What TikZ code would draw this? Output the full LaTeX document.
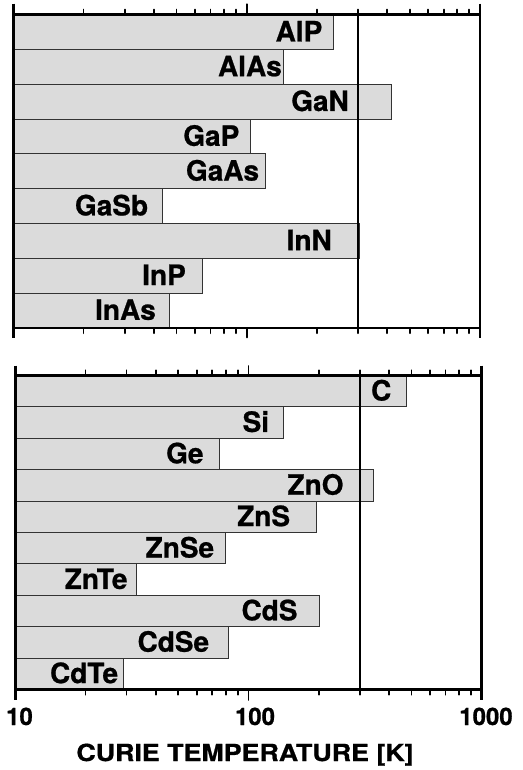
\documentclass[tikz,border=0pt]{standalone}
\usepackage{fontspec}
\setmainfont{TeX Gyre Heros}[BoldFeatures={FakeBold=0.8}]
\begin{document}
\begin{tikzpicture}[x=1pt,y=-1pt,
  bar/.style={draw=black!80,line width=0.9pt,fill=black!14},
  axisline/.style={line width=2.6pt,line cap=butt},
  tline/.style={line width=2pt},
  tickmark/.style={line width=1.8pt,line cap=round},
  lab/.style={font=\fontsize{28}{28}\selectfont\bfseries,inner sep=0pt,anchor=base east},
  num/.style={font=\fontsize{24}{24}\selectfont\bfseries,inner sep=0pt,anchor=base},
  ttl/.style={font=\fontsize{23.5}{24}\selectfont\bfseries,inner sep=0pt,anchor=base,xscale=1.14},
]
\useasboundingbox (0,0) rectangle (522,770);
\fill[white] (0,0) rectangle (522,770);

% ---------- top panel ----------
\def\xa{13.3}\def\xb{480}\def\ytop{14.7}\def\ybot{328}
\foreach \name/\xe/\xl [count=\i] in {AlP/333.3/322.5, AlAs/283.3/282, GaN/391.7/349, GaP/250/239.5, GaAs/265/259.3, GaSb/162.7/148.3, InN/359.3/332, InP/202.3/186, InAs/169/156}{
  \pgfmathsetmacro\ya{\ytop+34.8*(\i-1)}
  \pgfmathsetmacro\yb{\ytop+34.8*\i}
  \draw[bar] (\xa,\ya) rectangle (\xe,\yb);
  \node[lab] (t\i) at (\xl,{(\ya+\yb)/2+9.3}) {\name};
}
\coordinate (tT1) at ({\xa+233.35*1.47712},\ytop);
\coordinate (tT2) at ({\xa+233.35*1.47712},\ybot);
\draw[tline] (tT1) -- (tT2);
\draw[axisline] (\xa,\ytop) rectangle (\xb,\ybot);
\draw[axisline] (\xa,{\ytop-11}) -- (\xa,{\ybot+10});
\draw[axisline] (\xb,{\ytop-11}) -- (\xb,{\ybot+10});
\foreach \d in {0,1}{
  \foreach \l in {0.30103,0.47712,0.60206,0.69897,0.77815,0.84510,0.90309,0.95424}{
    \draw[tickmark] ({\xa+233.35*(\d+\l)},\ytop) -- ++(0,-5.2);
    \draw[tickmark] ({\xa+233.35*(\d+\l)},\ybot) -- ++(0,5.2);
  }
}
\draw[tickmark] ({\xa+233.35},\ytop) -- ++(0,-10.5);
\draw[tickmark] ({\xa+233.35},\ybot) -- ++(0,9.5);

% ---------- bottom panel ----------
\def\xc{15.3}\def\xd{481.7}\def\ytopb{375.5}\def\ybotb{689.5}
\foreach \name/\xe/\xl [count=\i] in {C/406/391.5, Si/283.3/269.3, Ge/219.3/203.7, ZnO/373.3/343.7, ZnS/316.7/290.3, ZnSe/225/214.3, ZnTe/136/127.7, CdS/319.3/297.7, CdSe/228.3/209.3, CdTe/123.3/118.3}{
  \pgfmathsetmacro\ya{\ytopb+31.4*(\i-1)}
  \pgfmathsetmacro\yb{\ytopb+31.4*\i}
  \draw[bar] (\xc,\ya) rectangle (\xe,\yb);
  \node[lab] (b\i) at (\xl,{(\ya+\yb)/2+9.3}) {\name};
}
\coordinate (bT1) at ({\xc+233.2*1.47712},\ytopb);
\coordinate (bT2) at ({\xc+233.2*1.47712},\ybotb);
\draw[tline] (bT1) -- (bT2);
\draw[axisline] (\xc,\ytopb) rectangle (\xd,\ybotb);
\draw[axisline] (\xc,{\ytopb-10}) -- (\xc,{\ybotb+10.5});
\draw[axisline] (\xd,{\ytopb-10}) -- (\xd,{\ybotb+10});
\foreach \d in {0,1}{
  \foreach \l in {0.30103,0.47712,0.60206,0.69897,0.77815,0.84510,0.90309,0.95424}{
    \draw[tickmark] ({\xc+233.2*(\d+\l)},\ytopb) -- ++(0,-5.2);
    \draw[tickmark] ({\xc+233.2*(\d+\l)},\ybotb) -- ++(0,5.2);
  }
}
\draw[tickmark] ({\xc+233.2},\ytopb) -- ++(0,-9.5);
\draw[tickmark] ({\xc+233.2},\ybotb) -- ++(0,10.5);

% ---------- axis labels ----------
\node[num] (n10) at (19.5,725) {10};
\node[num] (n100) at (255,725) {100};
\node[num] (n1000) at (486,725) {1000};
\node[ttl] (title) at (245,761) {CURIE TEMPERATURE [K]};
\end{tikzpicture}
\end{document}
